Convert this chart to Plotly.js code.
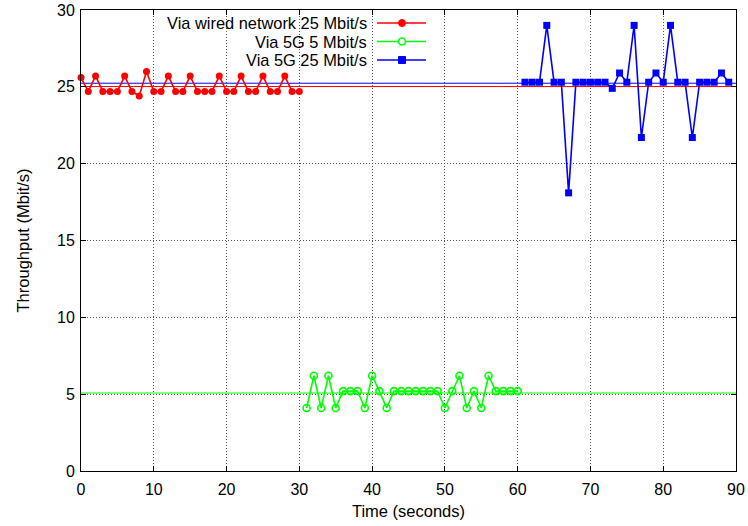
<!DOCTYPE html>
<html>
<head>
<meta charset="utf-8">
<script src="https://cdn.plot.ly/plotly-3.0.1.min.js"></script>
<style>html,body{margin:0;padding:0;background:#fff;}#chart{width:748px;height:526px;}</style>
</head>
<body>
<div id="chart"></div>
<script>
// Via wired network 25 Mbit/s
const wiredTime = [0,1,2,3,4,5,6,7,8,9,10,11,12,13,14,15,16,17,18,19,20,21,22,23,24,25,26,27,28,29,30];
const wiredThroughput = [25.6,24.7,25.7,24.7,24.7,24.7,25.7,24.7,24.4,26.0,24.7,24.7,25.7,24.7,24.7,25.7,24.7,24.7,24.7,25.7,24.7,24.7,25.7,24.7,24.7,25.7,24.7,24.7,25.7,24.7,24.7];

// Via 5G 5 Mbit/s
const g5Time = [31,32,33,34,35,36,37,38,39,40,41,42,43,44,45,46,47,48,49,50,51,52,53,54,55,56,57,58,59,60];
const g5Throughput = [4.1,6.2,4.1,6.2,4.1,5.2,5.2,5.2,4.1,6.2,5.2,4.1,5.2,5.2,5.2,5.2,5.2,5.2,5.2,4.1,5.2,6.2,4.1,5.2,4.1,6.2,5.2,5.2,5.2,5.2];

// Via 5G 25 Mbit/s
const g25Time = [61,62,63,64,65,66,67,68,69,70,71,72,73,74,75,76,77,78,79,80,81,82,83,84,85,86,87,88,89];
const g25Throughput = [25.3,25.3,25.3,29.0,25.3,25.3,18.1,25.3,25.3,25.3,25.3,25.3,24.9,25.9,25.3,29.0,21.7,25.3,25.9,25.3,29.0,25.3,25.3,21.7,25.3,25.3,25.3,25.9,25.3];

const seriesNames = ["Via wired network 25 Mbit/s", "Via 5G 5 Mbit/s", "Via 5G 25 Mbit/s"];
const xTicks = [0,10,20,30,40,50,60,70,80,90];
const yTicks = [0,5,10,15,20,25,30];
const xRange = [0, 90];

const RED = '#ff0000', GREEN = '#00ff00', BLUE = '#0000ff';
const FONT = 'Liberation Sans, Arial, sans-serif';
const mean = a => a.reduce((s, v) => s + v, 0) / a.length;

const traces = [
  {x: xRange, y: [mean(wiredThroughput), mean(wiredThroughput)], mode: 'lines', line: {color: RED, width: 1}, showlegend: false, hoverinfo: 'skip'},
  {x: xRange, y: [mean(g5Throughput), mean(g5Throughput)], mode: 'lines', line: {color: GREEN, width: 1}, showlegend: false, hoverinfo: 'skip'},
  {x: xRange, y: [mean(g25Throughput), mean(g25Throughput)], mode: 'lines', line: {color: BLUE, width: 1}, showlegend: false, hoverinfo: 'skip'},
  {x: wiredTime, y: wiredThroughput, name: seriesNames[0], mode: 'lines+markers', line: {color: RED, width: 1.6}, marker: {symbol: 'circle', size: 7, color: RED}, cliponaxis: false},
  {x: g5Time, y: g5Throughput, name: seriesNames[1], mode: 'lines+markers', line: {color: GREEN, width: 1.6}, marker: {symbol: 'circle-open', size: 7, color: GREEN, line: {width: 1.6, color: GREEN}}},
  {x: g25Time, y: g25Throughput, name: seriesNames[2], mode: 'lines+markers', line: {color: BLUE, width: 1.6}, marker: {symbol: 'square', size: 7, color: BLUE}}
];

// Legend (gnuplot style: text right-aligned, sample on the right)
const legendRows = [23, 41.5, 60]; // px from top of figure
const figH = 526, mT = 10, mB = 55, plotH = figH - mT - mB;
const figW = 748, mL = 81, mR = 12, plotW = figW - mL - mR;
const py = p => 1 - (p - mT) / plotH;
const px = p => (p - mL) / plotW;
const annotations = [];
const shapes = [];
const colors = [RED, GREEN, BLUE];
seriesNames.forEach((n, i) => {
  const yy = py(legendRows[i]);
  annotations.push({xref: 'paper', yref: 'paper', x: px(368), y: yy, xanchor: 'right', yanchor: 'middle', height: 16, valign: 'middle', borderpad: 0, text: n, showarrow: false, font: {family: FONT, size: 16.4, color: '#000'}});
  shapes.push({type: 'line', xref: 'paper', yref: 'paper', x0: px(377), x1: px(426), y0: yy, y1: yy, line: {color: colors[i], width: 1.6}});
  const r = 3.5, cx = px(402);
  const dx = r / plotW, dy = r / plotH;
  if (i === 0) shapes.push({type: 'circle', xref: 'paper', yref: 'paper', x0: cx - dx, x1: cx + dx, y0: yy - dy, y1: yy + dy, fillcolor: RED, line: {color: RED, width: 1}});
  if (i === 1) shapes.push({type: 'circle', xref: 'paper', yref: 'paper', x0: cx - dx, x1: cx + dx, y0: yy - dy, y1: yy + dy, fillcolor: '#ffffff', line: {color: GREEN, width: 1.6}});
  if (i === 2) shapes.push({type: 'rect', xref: 'paper', yref: 'paper', x0: cx - dx, x1: cx + dx, y0: yy - dy, y1: yy + dy, fillcolor: BLUE, line: {color: BLUE, width: 1}});
});

const axisCommon = {
  showline: true, linecolor: '#000', linewidth: 1, mirror: 'ticks',
  ticks: 'inside', ticklen: 5, tickcolor: '#000', tickwidth: 1,
  showgrid: true, gridcolor: '#555', griddash: '1px,2px', gridwidth: 1,
  zeroline: false, tickfont: {family: FONT, size: 16, color: '#000'}
};

const layout = {
  width: 748, height: 526,
  margin: {l: mL, r: mR, t: mT, b: mB},
  paper_bgcolor: '#fff', plot_bgcolor: '#fff',
  showlegend: false,
  font: {family: FONT, size: 16, color: '#000'},
  xaxis: Object.assign({}, axisCommon, {range: xRange, tickvals: xTicks, ticktext: xTicks.map(String),
    ticklabelstandoff: 4,
    title: {text: 'Time (seconds)', font: {family: FONT, size: 16.5}, standoff: 8}}),
  yaxis: Object.assign({}, axisCommon, {range: [0, 30], tickvals: yTicks, ticktext: yTicks.map(String),
    ticklabelstandoff: 2,
    title: {text: 'Throughput (Mbit/s)', font: {family: FONT, size: 16.5}, standoff: 23}}),
  annotations: annotations,
  shapes: shapes
};

Plotly.newPlot('chart', traces, layout, {displayModeBar: false, staticPlot: true});
</script>
</body>
</html>
